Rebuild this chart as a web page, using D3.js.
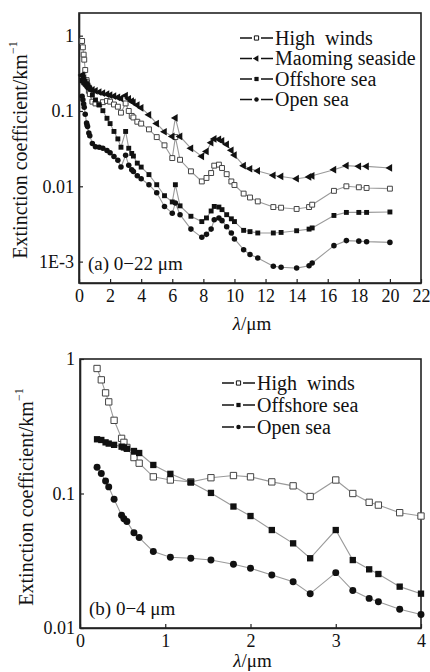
<!DOCTYPE html>
<html>
<head>
<meta charset="utf-8">
<script src="https://cdn.jsdelivr.net/npm/d3@7/dist/d3.min.js"></script>
<style>
  body { margin: 0; background: #fff; }
  svg text { font-family: "Liberation Serif", "Times New Roman", serif; fill: #111; white-space: pre; }
</style>
</head>
<body>
<svg id="chart" width="430" height="672"></svg>
<script>
// wavelengths (um) shared by all series; panel (b) uses the first 25 (up to 4 um)
const wavelengths = [0.2, 0.25, 0.3, 0.337, 0.4, 0.488, 0.515, 0.55, 0.633, 0.694,
  0.86, 1.06, 1.3, 1.536, 1.8, 2.0, 2.25, 2.5, 2.7, 3.0,
  3.2, 3.392, 3.5, 3.75, 4.0, 4.5, 5.0, 5.5, 6.0, 6.2,
  6.5, 7.2, 7.9, 8.2, 8.5, 8.7, 9.0, 9.2, 9.5, 9.8,
  10.0, 10.591, 11.0, 11.5, 12.5, 13.0, 14.0, 14.8, 15.0, 16.4,
  17.2, 18.0, 18.5, 20.0];
const SHORT_COUNT = 25;

const highWinds = [0.85, 0.70, 0.56, 0.48, 0.35, 0.257, 0.24, 0.22, 0.185, 0.168,
  0.133, 0.126, 0.122, 0.131, 0.136, 0.133, 0.122, 0.114, 0.095, 0.126,
  0.100, 0.086, 0.082, 0.072, 0.068, 0.057, 0.045, 0.035, 0.0237, 0.045,
  0.0225, 0.0158, 0.0116, 0.0129, 0.015, 0.0188, 0.0194, 0.0175, 0.0145, 0.0116,
  0.0104, 0.0080, 0.0071, 0.0063, 0.0053, 0.0052, 0.0050, 0.0053, 0.0057, 0.0087,
  0.0100, 0.0097, 0.0095, 0.0093];

const maomingSeaside = [0.30, 0.29, 0.27, 0.25, 0.24, 0.225, 0.215, 0.21, 0.20, 0.195,
  0.19, 0.185, 0.178, 0.172, 0.167, 0.162, 0.157, 0.152, 0.147, 0.16,
  0.145, 0.135, 0.13, 0.12, 0.11, 0.089, 0.068, 0.053, 0.046, 0.081,
  0.046, 0.032, 0.025, 0.029, 0.038, 0.0425, 0.042, 0.040, 0.036, 0.030,
  0.026, 0.0188, 0.0171, 0.0160, 0.0140, 0.0135, 0.0126, 0.0133, 0.0138, 0.0166,
  0.0188, 0.0184, 0.0184, 0.0175];

const offshoreSea = [0.253, 0.25, 0.24, 0.235, 0.23, 0.223, 0.22, 0.215, 0.207, 0.20,
  0.163, 0.14, 0.121, 0.101, 0.080, 0.068, 0.0535, 0.0426, 0.033, 0.0535,
  0.032, 0.0273, 0.0252, 0.0203, 0.018, 0.0143, 0.0105, 0.0075, 0.0062, 0.0105,
  0.0055, 0.0040, 0.0034, 0.0038, 0.0047, 0.0054, 0.0053, 0.0049, 0.0042, 0.0037,
  0.0034, 0.0026, 0.0025, 0.0024, 0.0024, 0.00244, 0.00257, 0.0027, 0.0028, 0.0041,
  0.0045, 0.0045, 0.0045, 0.00456];

const openSea = [0.157, 0.141, 0.124, 0.112, 0.0905, 0.069, 0.065, 0.062, 0.051, 0.047,
  0.037, 0.0336, 0.033, 0.032, 0.0298, 0.0278, 0.0248, 0.0221, 0.018, 0.0258,
  0.019, 0.0166, 0.0157, 0.0138, 0.0126, 0.0105, 0.0082, 0.0054, 0.0044, 0.0060,
  0.0042, 0.0027, 0.0021, 0.0023, 0.0027, 0.0036, 0.0038, 0.0035, 0.0029, 0.0024,
  0.0020, 0.00144, 0.00124, 0.00112, 0.00087, 0.00084, 0.00082, 0.00088, 0.00096, 0.00163,
  0.0019, 0.00187, 0.00184, 0.0018];

const xTicksA = [0, 2, 4, 6, 8, 10, 12, 14, 16, 18, 20, 22];
const yTicksA = [1, 0.1, 0.01, 0.001];
const yLabelsA = ['1', '0.1', '0.01', '1E-3'];
const xTicksB = [0, 1, 2, 3, 4];
const yTicksB = [1, 0.1, 0.01];
const yLabelsB = ['1', '0.1', '0.01'];

const LINE_COLOR = '#9a9a9a';

const seriesStyle = {
  'High  winds': {values: highWinds, symbol: d3.symbolSquare, fill: '#fff', stroke: '#444', rotate: 0},
  'Maoming seaside': {values: maomingSeaside, symbol: d3.symbolTriangle, fill: '#111', stroke: 'none', rotate: -90},
  'Offshore sea': {values: offshoreSea, symbol: d3.symbolSquare, fill: '#111', stroke: 'none', rotate: 0},
  'Open sea': {values: openSea, symbol: d3.symbolCircle, fill: '#111', stroke: 'none', rotate: 0}
};

const svg = d3.select('#chart');

function drawPanel(cfg) {
  const g = svg.append('g');

  const x = d3.scaleLinear().domain(cfg.xDomain).range([cfg.left, cfg.right]);
  const y = d3.scaleLog().domain(cfg.yDomain).range([cfg.bottom, cfg.top]);

  // frame
  g.append('rect')
    .attr('x', cfg.left).attr('y', cfg.top)
    .attr('width', cfg.right - cfg.left).attr('height', cfg.bottom - cfg.top)
    .attr('fill', 'none').attr('stroke', '#222').attr('stroke-width', 1.6);

  const xAxis = d3.axisBottom(x).tickValues(cfg.xTicks)
    .tickSizeInner(-4).tickSizeOuter(0).tickPadding(6).tickFormat(d => d);
  const yAxis = d3.axisLeft(y).tickValues(cfg.yTicks)
    .tickSizeInner(-4).tickSizeOuter(0).tickPadding(5)
    .tickFormat((d, i) => cfg.yLabels[i]);

  g.append('g').attr('transform', `translate(0,${cfg.bottom})`).call(xAxis)
    .call(a => a.select('.domain').attr('stroke', '#222').attr('stroke-width', 1.6))
    .call(a => a.selectAll('.tick line').attr('stroke', '#222').attr('stroke-width', 1.2))
    .call(a => a.selectAll('.tick text').attr('font-size', 18).attr('font-family', null).attr('fill', '#111'));
  g.append('g').attr('transform', `translate(${cfg.left},0)`).call(yAxis)
    .call(a => a.select('.domain').attr('stroke', '#222').attr('stroke-width', 1.6))
    .call(a => a.selectAll('.tick line').attr('stroke', '#222').attr('stroke-width', 1.2))
    .call(a => a.selectAll('.tick text').attr('font-size', 18).attr('font-family', null).attr('fill', '#111'));

  // series lines then markers
  const n = cfg.count;
  const line = d3.line().x(d => x(d[0])).y(d => y(d[1]));
  cfg.series.forEach(name => {
    const s = seriesStyle[name];
    const pts = wavelengths.slice(0, n).map((w, i) => [w, s.values[i]]);
    g.append('path').datum(pts)
      .attr('d', line).attr('fill', 'none')
      .attr('stroke', LINE_COLOR).attr('stroke-width', 1.1);
  });
  cfg.series.forEach(name => {
    const s = seriesStyle[name];
    const pts = wavelengths.slice(0, n).map((w, i) => [w, s.values[i]]);
    const size = s.symbol === d3.symbolCircle ? cfg.circleSize
      : s.symbol === d3.symbolTriangle ? cfg.triSize : cfg.squareSize;
    g.append('g').selectAll('path').data(pts).join('path')
      .attr('d', d3.symbol().type(s.symbol).size(size))
      .attr('transform', d => `translate(${x(d[0])},${y(d[1])}) rotate(${s.rotate})`)
      .attr('fill', s.fill).attr('stroke', s.stroke).attr('stroke-width', 1);
  });

  // legend
  cfg.series.forEach((name, i) => {
    const s = seriesStyle[name];
    const ly = cfg.legend.y + i * cfg.legend.dy;
    const lx = cfg.legend.x;
    g.append('line').attr('x1', lx).attr('x2', lx + 33).attr('y1', ly).attr('y2', ly)
      .attr('stroke', '#111').attr('stroke-width', 1.4);
    g.append('rect').attr('x', lx + 12).attr('y', ly - 5).attr('width', 9).attr('height', 10).attr('fill', '#fff');
    g.append('path')
      .attr('d', d3.symbol().type(s.symbol).size(s.symbol === d3.symbolCircle ? 16 : 18))
      .attr('transform', `translate(${lx + 16.5},${ly}) rotate(${s.rotate})`)
      .attr('fill', s.fill).attr('stroke', s.stroke === 'none' ? 'none' : '#111').attr('stroke-width', 1);
    g.append('text').attr('x', lx + 35).attr('y', ly).attr('dy', '0.33em')
      .attr('font-size', 20).text(name);
  });

  // panel label
  g.append('text').attr('x', cfg.left + 9).attr('y', cfg.bottom - 13)
    .attr('font-size', 19).text(cfg.label);

  // axis titles
  const xt = g.append('text').attr('x', (cfg.left + cfg.right) / 2 + 2).attr('y', cfg.xTitleY)
    .attr('text-anchor', 'middle').attr('font-size', 19);
  xt.append('tspan').attr('font-style', 'italic').text('λ');
  xt.append('tspan').text('/μm');

  const yt = g.append('text')
    .attr('transform', `translate(${cfg.yTitleX},${cfg.yTitleY}) rotate(-90)`)
    .attr('text-anchor', 'middle').attr('font-size', 20);
  yt.append('tspan').text('Extinction coefficient/km');
  yt.append('tspan').attr('font-size', 12).attr('dy', '-0.8em').text('−1');
}

drawPanel({
  left: 79, right: 421, top: 13, bottom: 283,
  xDomain: [0, 22], yDomain: [5.2e-4, 2.0],
  xTicks: xTicksA, yTicks: yTicksA, yLabels: yLabelsA,
  count: wavelengths.length,
  series: ['High  winds', 'Maoming seaside', 'Offshore sea', 'Open sea'],
  squareSize: 24, circleSize: 24, triSize: 26,
  legend: {x: 240, y: 38, dy: 20.5},
  label: '(a) 0−22 μm',
  xTitleY: 330, yTitleX: 27, yTitleY: 150
});

drawPanel({
  left: 80, right: 421, top: 359, bottom: 628,
  xDomain: [0, 4], yDomain: [0.01, 1],
  xTicks: xTicksB, yTicks: yTicksB, yLabels: yLabelsB,
  count: SHORT_COUNT,
  series: ['High  winds', 'Offshore sea', 'Open sea'],
  squareSize: 40, circleSize: 38, triSize: 30,
  legend: {x: 222, y: 383, dy: 22},
  label: '(b) 0−4 μm',
  xTitleY: 667, yTitleX: 33, yTitleY: 497
});
</script>
</body>
</html>
